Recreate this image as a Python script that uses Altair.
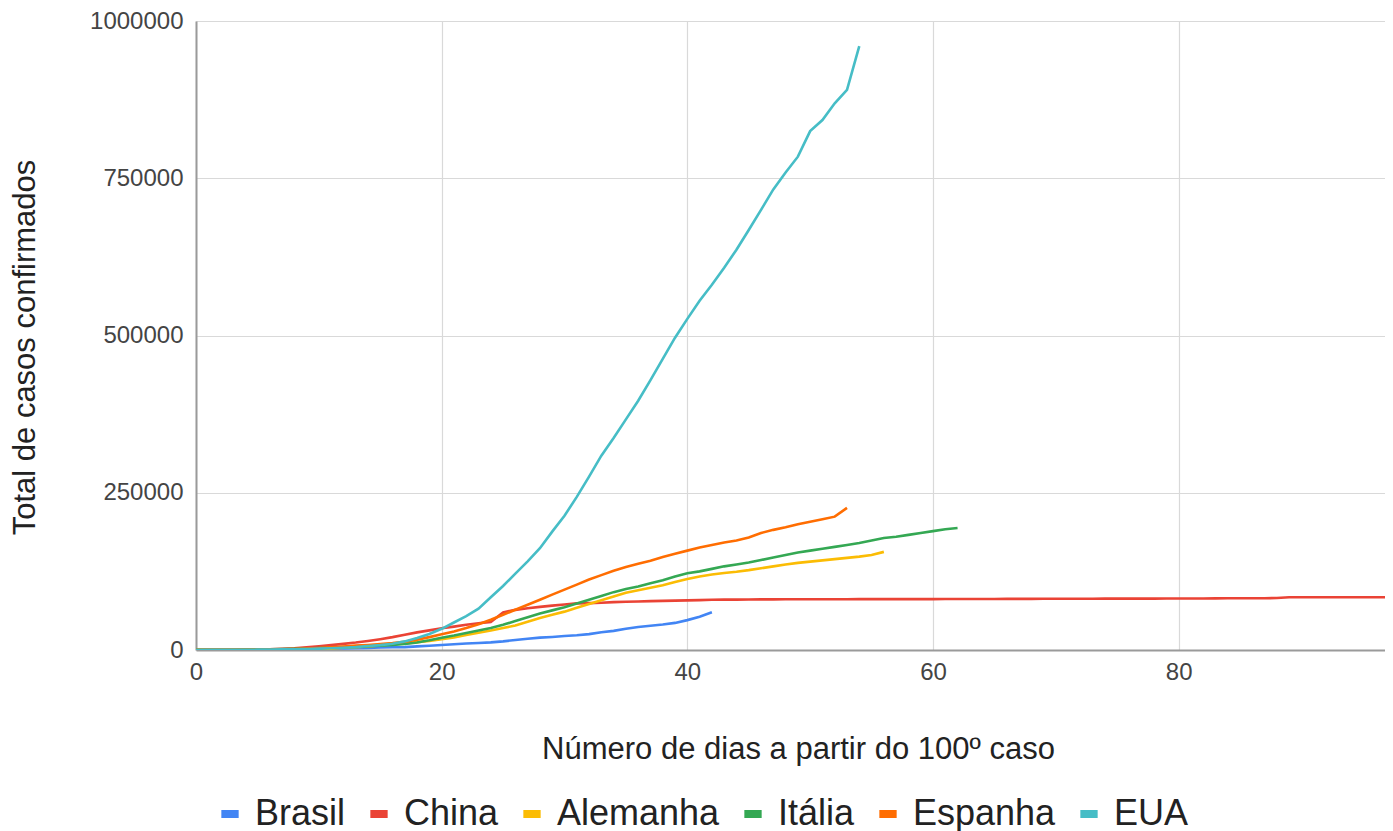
import altair as alt
import pandas as pd

paises = ["Brasil", "China", "Alemanha", "Itália", "Espanha", "EUA"]
cores = ["#4285F4", "#EA4335", "#FBBC04", "#34A853", "#FF6D01", "#46BDC6"]

brasil = [100, 150, 200, 230, 290, 430, 620, 900, 1130, 1550, 1920, 2250, 2550, 2990, 3420,
          3900, 4260, 4580, 5720, 6840, 7910, 9060, 10280, 11130, 12060, 13720, 15930, 17860,
          19640, 20730, 22170, 23430, 25260, 28320, 30430, 33680, 36600, 38650, 40580, 43080,
          47500, 53000, 60000]

china = [100, 200, 290, 440, 570, 830, 1290, 1980, 2740, 4500, 5970, 7710, 9690, 11790, 14380,
         17200, 20440, 24320, 28020, 31160, 34550, 37200, 40170, 42640, 44650,
         59800, 63850, 66490, 68500, 70550, 72440, 74190, 74580, 75080, 76120, 76710, 77150,
         77660, 78060, 78500, 78820, 79250, 79820, 80030, 80150, 80270, 80410, 80550, 80650,
         80700, 80740, 80750, 80780, 80790, 80810, 80820, 80840, 80860, 80880, 80890, 80930,
         80970, 81010, 81050, 81090, 81170, 81220, 81290, 81340, 81390, 81470, 81520, 81550,
         81590, 81620, 81640, 81670, 81710, 81740, 81800, 81870, 81910, 81950, 82050, 82160,
         82250, 82300, 82340, 82690, 83760, 83790, 83810, 83820, 83850, 83870, 83880, 83900,
         83910]

alemanha = [130, 159, 196, 262, 482, 670, 799, 1040, 1176, 1457, 1908, 2078, 3675, 4585, 5795,
            7272, 9257, 10500, 12500, 14500, 17000, 20000, 24000, 27500, 31000, 35000, 39000,
            45000, 51000, 56000, 61000, 67000, 73000, 79000, 85000, 91000, 95000, 99000, 103000,
            108000, 113000, 117000, 120000, 122500, 124500, 127000, 130000, 133000, 136000,
            138500, 140500, 142500, 144500, 146500, 148500, 151000, 156000]

italia = [155, 229, 322, 453, 655, 888, 1128, 1694, 2036, 2502, 3089, 3858, 4636, 5000, 5900,
          7000, 8000, 9500, 12000, 15500, 19500, 23000, 27000, 31000, 35000, 40000, 46000,
          52000, 58000, 63000, 68000, 74000, 80000, 86000, 92000, 97000, 101000, 106000, 111000,
          117000, 122000, 125000, 129000, 133000, 136000, 139000, 143000, 147000, 151000,
          155000, 158000, 161000, 164000, 167000, 170000, 174000, 178000, 180000, 183000,
          186000, 189000, 192000, 194000]

espanha = [120, 165, 222, 259, 400, 500, 673, 1073, 1695, 2277, 3000, 4200, 5500, 6900, 8000,
           9500, 11000, 13000, 16500, 20500, 25000, 29500, 35000, 41000, 48000, 56000, 64000,
           72000, 80000, 88000, 96000, 104000, 112000, 119000, 126000, 132000, 137000, 142000,
           148000, 153000, 158000, 163000, 167000, 171000, 174000, 179000, 186000, 191000,
           195000, 200000, 204000, 208000, 212000, 226000]

eua = [118, 149, 217, 262, 402, 518, 583, 959, 1281, 1663, 2179, 2727, 3499, 4632, 6421, 7786,
       10000, 13680, 19100, 25500, 33700, 43700, 53700, 65800, 83800, 101700, 121500, 140900,
       161800, 188200, 213400, 243500, 275600, 308900, 337000, 366700, 396200, 429000, 462800,
       496500, 526400, 555300, 580600, 607700, 636400, 667800, 699700, 732200, 759100, 784300,
       825000, 842600, 869200, 890500, 960000]

x_ticks = [0, 20, 40, 60, 80]
y_ticks = [0, 250000, 500000, 750000, 1000000]

series = dict(zip(paises, [brasil, china, alemanha, italia, espanha, eua]))
rows = []
for pais, vals in series.items():
    for dia, v in enumerate(vals):
        rows.append({"dia": dia, "casos": v, "pais": pais})
df = pd.DataFrame(rows)

FONT = "Arial, Liberation Sans, sans-serif"

chart = alt.Chart(df).mark_line(strokeWidth=2.6, clip=True, interpolate="linear").encode(
    x=alt.X("dia:Q",
            scale=alt.Scale(domain=[0, 96.8], nice=False, zero=False),
            axis=alt.Axis(values=x_ticks, title="Número de dias a partir do 100º caso",
                          labelPadding=10, titlePadding=50, format="d", labelFlush=False,
                          titleX=602)),
    y=alt.Y("casos:Q",
            scale=alt.Scale(domain=[0, 1000000], nice=False),
            axis=alt.Axis(values=y_ticks, title="Total de casos confirmados",
                          labelPadding=13, titlePadding=48, format="d", labelFlush=False,
                          titleY=326)),
    color=alt.Color("pais:N",
                    scale=alt.Scale(domain=paises, range=cores),
                    legend=alt.Legend(title=None, orient="none", direction="horizontal",
                                      legendX=16, legendY=775)),
    order=alt.Order("dia:Q"),
).properties(
    width=1189, height=629,
    autosize=alt.AutoSizeParams(type="none"),
    padding={"left": 188, "top": 13, "right": 0, "bottom": 183},
).configure_view(
    stroke=None
).configure_axis(
    labelFont=FONT, titleFont=FONT,
    labelFontSize=24, titleFontSize=31,
    labelColor="#444444", titleColor="#222222",
    titleFontWeight="normal",
    ticks=False, tickSize=0,
    gridColor="#d9d9d9", gridWidth=1.2,
    domainColor="#9a9a9a", domainWidth=2,
).configure_legend(
    labelFont=FONT, labelFontSize=36, labelColor="#222222",
    symbolType="stroke", symbolStrokeWidth=8, symbolSize=300,
    labelOffset=7, columnPadding=8, padding=0, labelLimit=400,
)

chart.save("out.html", embed_options={"renderer": "svg", "actions": False})
